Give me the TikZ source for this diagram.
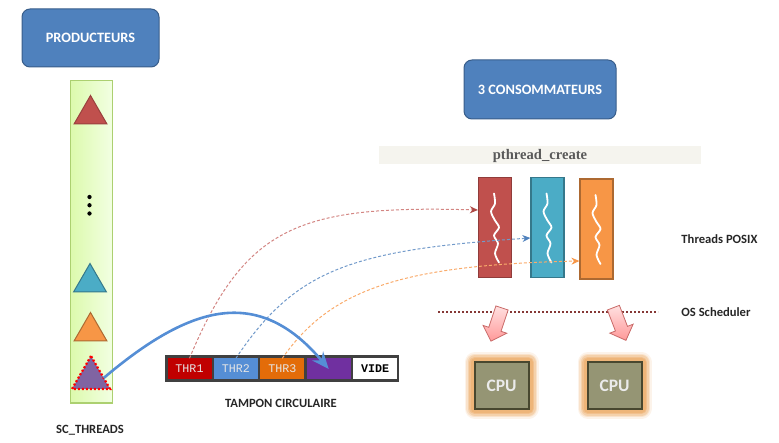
\documentclass[tikz,border=0pt]{standalone}
\usepackage{fontspec}
\setmainfont{Carlito}
\newfontfamily\cellfont{Liberation Mono}
\newfontfamily\callfont{Liberation Serif}
\usetikzlibrary{positioning,shapes.geometric,shapes.arrows,arrows.meta}

\definecolor{boxblue}{HTML}{4F81BD}
\definecolor{boxedge}{HTML}{385D8A}
\definecolor{trired}{HTML}{C0504D}
\definecolor{triblue}{HTML}{4BACC6}
\definecolor{triorange}{HTML}{F79646}
\definecolor{tripurple}{HTML}{8064A2}
\definecolor{cpufill}{HTML}{959574}
\definecolor{cpuedge}{HTML}{48472F}
\definecolor{glow}{HTML}{EDB070}
\definecolor{jumpblue}{HTML}{558ED5}

\tikzset{
	titlebox/.style={draw=boxedge, line width=1pt, fill=boxblue, rounded corners=8pt, text=white,
		font=\fontsize{14.3}{16}\selectfont\bfseries},
	tri/.style={regular polygon, regular polygon sides=3, inner sep=0pt, outer sep=0pt, line width=1pt, minimum size=38pt},
	cell/.style={inner sep=0pt, minimum width=44pt, minimum height=21pt, text=white!90!black,
		font=\cellfont\fontsize{11.7}{12}\selectfont},
	threadbox/.style={minimum width=33pt, minimum height=100pt, inner sep=0pt, line width=1.2pt},
	caption/.style={font=\fontsize{12.6}{14}\selectfont\bfseries, text=black!85},
	cpu/.style={draw=cpuedge, line width=2pt, fill=cpufill, minimum width=54pt, minimum height=46pt, inner sep=0pt,
		text=white!92!black, font=\fontsize{17.5}{19}\selectfont\bfseries,
		preaction={draw=glow, opacity=.15, line width=20pt, line join=round},
		preaction={draw=glow, opacity=.25, line width=17pt, line join=round},
		preaction={draw=glow, opacity=.35, line width=14pt, line join=round},
		preaction={draw=glow, opacity=.5, line width=11pt, line join=round},
		preaction={draw=glow, opacity=.7, line width=8pt, line join=round}},
	dropArrow/.style={single arrow, draw=trired!85, line width=.8pt, top color=red!12, bottom color=red!40!white,
		minimum height=35pt, minimum width=25pt, single arrow head extend=6pt, inner sep=6pt},
	dashline/.style={densely dashed, line width=1pt},
	wave/.pic={\draw[white, line width=1.8pt, line cap=round] plot[smooth] coordinates
		{(-1,-34) (0,-24) (-4,-16) (0,-7) (4,0) (-1,8) (3,16) (0,26) (4,35)};}
}

\begin{document}
\begin{tikzpicture}[x=1pt,y=-1pt]
	\useasboundingbox (0,0) rectangle (779,443);

	% producers
	\node[titlebox, minimum width=137pt, minimum height=58pt] (prod) at (90.5,38) {PRODUCTEURS};
	\node[draw={rgb,255:red,172;green,208;blue,112}, line width=1pt, left color={rgb,255:red,220;green,250;blue,172}, right color={rgb,255:red,242;green,255;blue,226},
		minimum width=42pt, minimum height=322pt, inner sep=0pt] (strip) at (91,242) {};
	\node[tri, draw=trired!80!black, fill=trired] (triA) at (90.5,114.5) {};
	\node[tri, draw=triblue!70!black, fill=triblue] (triB) at (90,282.5) {};
	\node[tri, draw=triorange!70!black, fill=triorange] (triC) at (90.5,331.5) {};
	\node[tri, draw=red, fill=tripurple, dash pattern=on 2pt off 2pt, line width=2.2pt, minimum size=44pt] (triD) at (91,378) {};
	\node[circle, fill=black, inner sep=1.5pt] (dotA) at (89.5,197) {};
	\node[circle, fill=black, inner sep=1.5pt, below=3.6pt of dotA] (dotB) {};
	\node[circle, fill=black, inner sep=1.5pt, below=3.6pt of dotB] (dotC) {};
	\node[caption] (scthreads) at (90,430) {SC\_THREADS};

	% circular buffer
	\node[fill=black!75, minimum width=234pt, minimum height=27pt, inner sep=0pt] (buffer) at (282,369) {};
	\node[cell, fill={rgb,255:red,192;green,0;blue,0}] (thrA) at (189.5,369) {THR1};
	\node[cell, fill=jumpblue, right=2pt of thrA] (thrB) {THR2};
	\node[cell, fill={rgb,255:red,227;green,108;blue,9}, right=2pt of thrB] (thrC) {THR3};
	\node[cell, fill={rgb,255:red,112;green,48;blue,160}, right=2pt of thrC] (thrD) {};
	\node[cell, fill=white, text=black, right=2pt of thrD] (thrE) {\bfseries VIDE};
	\node[caption] (tampon) at (281,403) {TAMPON CIRCULAIRE};

	% consumers
	\node[titlebox, minimum width=152pt, minimum height=59pt] (cons) at (540,89.5) {3 CONSOMMATEURS};
	\node[fill={rgb,255:red,245;green,244;blue,238}, minimum width=322pt, minimum height=18pt, inner sep=0pt, text=black!65, text depth=1pt,
		font=\callfont\fontsize{14.6}{16}\selectfont\bfseries] (pcreate) at (540,155) {pthread\_create};
	\node[threadbox, draw=trired!75!black, fill=trired] (thA) at (495,227.5) {};
	\node[threadbox, draw=triblue!70!black, fill=triblue] (thB) at (547.5,227.5) {};
	\node[threadbox, draw=triorange!70!black, fill=triorange] (thC) at (596.5,229) {};
	\pic at (thA) {wave};
	\pic at (thB) {wave};
	\pic at (thC) {wave};
	\node[caption] (posix) at (719.5,239) {Threads POSIX};

	% scheduler
	\coordinate (schedL) at (438,312);
	\coordinate (schedR) at (658,312);
	\draw[trired!70!black, line width=2.2pt, dash pattern=on 2pt off 2pt] (schedL) -- (schedR);
	\node[caption] (sched) at (716,312) {OS Scheduler};
	\node[cpu] (cpuA) at (501.5,385.5) {CPU};
	\node[cpu] (cpuB) at (614.5,385.5) {CPU};
	\node[dropArrow, rotate=251.6] (dropA) at (497.5,321.5) {};
	\node[dropArrow, rotate=291] (dropB) at (618.5,321) {};

	% connectors
	\draw[dashline, trired!70, -{Stealth[length=8pt,width=7pt,trired!90!black]}] (thrA.north) .. controls (245,225) and (300,205) .. (thA.west |- 0,210);
	\draw[dashline, boxblue!80, -{Stealth[length=8pt,width=7pt,boxblue]}] (thrB.north) .. controls (295,270) and (350,250) .. (thB.west |- 0,238);
	\draw[dashline, triorange!80, -{Stealth[length=8pt,width=7pt,triorange]}] (thrC.north) .. controls (330,290) and (400,265) .. (thC.west |- 0,261);
	\draw[jumpblue, line width=2.6pt, -{Stealth[length=17pt,width=14pt]}] (triD.0) .. controls (190,305) and (258,285) .. (thrD.center);
\end{tikzpicture}
\end{document}
